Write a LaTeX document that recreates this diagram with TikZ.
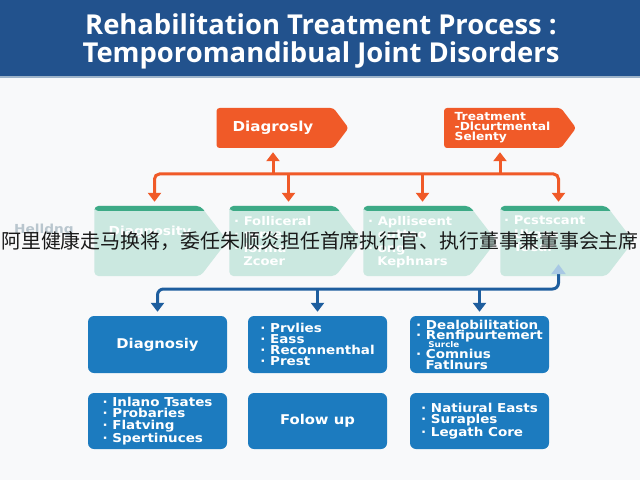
\documentclass[tikz,border=0pt]{standalone}
\usepackage{fontspec}
\setmainfont{Open Sans}
\newfontfamily\boxfont[FakeStretch=1.1]{DejaVu Sans}
\newfontfamily\cjk{Noto Sans CJK SC}
\usetikzlibrary{shapes.symbols,arrows.meta,calc}
\definecolor{titlebg}{HTML}{22528D}
\definecolor{titleline}{HTML}{9DB3C9}
\definecolor{orng}{HTML}{F05A28}
\definecolor{mint}{HTML}{CBE8E0}
\definecolor{mintdark}{HTML}{3DAA86}
\definecolor{bbox}{HTML}{1C7BBF}
\definecolor{bline}{HTML}{1E5E9E}
\definecolor{blight}{HTML}{A8C8E4}
\definecolor{pagebg}{HTML}{F8F9FA}
\definecolor{ghost}{HTML}{B9C6CE}
\begin{document}
\begin{tikzpicture}[x=1bp,y=-1bp,
  obox/.style={signal, signal to=east, signal pointer angle=106, fill=orng,
    text=white, minimum width=132bp, minimum height=40bp, inner sep=0pt,
    rounded corners=3bp, align=left},
  mbox/.style={signal, signal to=east, signal pointer angle=105, fill=mint,
    minimum width=133bp, minimum height=70bp, inner sep=0pt, rounded corners=4bp,
    path picture={\fill[mintdark] (path picture bounding box.north west)
      rectangle ([yshift=-5bp]path picture bounding box.north east);}},
  mtext/.style={text=white, font=\boxfont\bfseries\fontsize{12}{13.5}\selectfont,
    align=left, inner sep=0pt, anchor=north west},
  bbx/.style={rectangle, rounded corners=6bp, fill=bbox, minimum width=139bp,
    minimum height=57bp, inner sep=0pt, text=white, align=left,
    font=\boxfont\bfseries\fontsize{12.3}{10.8}\selectfont},
  oline/.style={draw=orng, line width=3bp},
  otip/.style={-{Triangle[length=9bp,width=13bp]}},
  bl/.style={draw=bline, line width=3bp},
]
\useasboundingbox (0,0) rectangle (640,480);
\fill[pagebg] (0,0) rectangle (640,480);
% title
\fill[titlebg] (0,0) rectangle (640,77);
\fill[titleline] (0,76.5) rectangle (640,78.5);
\node[text=white, font=\bfseries\fontsize{27.5}{28}\selectfont, align=center] (title)
  at (321,41) {Rehabilitation Treatment Process :\\Temporomandibual Joint Disorders};
% orange boxes
\node[obox, font=\boxfont\bfseries\fontsize{13.8}{12}\selectfont] (o1) at (275,128) {Diagrosly\hspace*{4bp}};
\node[obox, font=\boxfont\bfseries\fontsize{11.2}{10}\selectfont] (o2) at (502.5,128)
  {Treatment\\-Dlcurtmental\\Selenty\hspace*{10bp}};
% mint boxes
\node[mbox] (m1) at (147.5,241) {};
\node[mbox] (m2) at (282.5,241) {};
\node[mbox] (m3) at (416.5,241) {};
\node[mbox] (m4) at (553.5,241) {};
\node[text=ghost, font=\boxfont\bfseries\fontsize{12.5}{12}\selectfont] (hd) at (44,230) {Helldng};
\node[text=white, font=\boxfont\bfseries\fontsize{12.5}{12}\selectfont] (t1) at (150,232) {Diagnosity};
\node[mtext] (t2) at (234,216) {· Folliceral\\· rerce\\· lorma\\\ \ Zcoer};
\node[mtext] (t3) at (368,216) {· Aplliseent\\· euttoo\\· ong\\\ \ Kephnars};
\node[mtext] (t4) at (504,216) {· Pcstscant\\· Ukase\\\ \ Toear};
% orange connectors
\coordinate (oh) at (0,174);
\coordinate (a1) at ([xshift=7bp]m1.north);
\coordinate (a2) at ([xshift=6bp]m2.north);
\coordinate (a3) at ([xshift=6bp]m3.north);
\coordinate (a4) at ([xshift=5bp]m4.north);
\draw[oline, {Triangle[length=9bp,width=13bp]}-{Triangle[length=9bp,width=13bp]},
  rounded corners=5bp, shorten <=4bp, shorten >=4bp]
  (a1) -- (a1 |- oh) -- (a4 |- oh) -- (a4);
\draw[oline, otip, shorten >=4bp] (a2 |- oh) -- (a2);
\draw[oline, otip, shorten >=4bp] (a3 |- oh) -- (a3);
\coordinate (u1) at ([xshift=-2bp]o1.south);
\coordinate (u2) at ([xshift=-2.5bp]o2.south);
\draw[oline, otip, shorten >=4bp] (u1 |- oh) -- (u1);
\draw[oline, otip, shorten >=4bp] (u2 |- oh) -- (u2);
% blue boxes
\node[bbx, font=\boxfont\bfseries\fontsize{13.5}{13}\selectfont] (b11) at (157.5,344.5) {Diagnosiy};
\node[bbx] (b12) at (317.5,344.5) {· Prvlies\\· Eass\\· Reconnenthal\\· Prest};
\node[bbx] (b13) at (479.5,344.5) {· Dealobilitation\\· Renfipurtemert\\[-3bp]{\fontsize{8}{8}\selectfont\ \ \ \ Surcle}\\· Comnius\\\ \ Fatlnurs};
\node[bbx, minimum height=56bp, font=\boxfont\bfseries\fontsize{12.3}{11.3}\selectfont] (b21) at (157.5,421) {· Inlano Tsates\\· Probaries\\· Flatving\\· Spertinuces};
\node[bbx, minimum height=56bp, font=\boxfont\bfseries\fontsize{13.5}{13}\selectfont] (b22) at (317.5,421) {Folow up};
\node[bbx, minimum height=56bp, font=\boxfont\bfseries\fontsize{12.3}{11.3}\selectfont] (b23) at (479.5,421) {· Natiural Easts\\· Suraples\\· Legath Core};
% blue connectors
\coordinate (bh) at (0,289);
\coordinate (bu) at ([xshift=5bp]m4.south);
\draw[bl, {Triangle[length=9bp,width=13bp]}-{Triangle[length=10bp,width=14bp,color=blight]},
  rounded corners=6bp, shorten <=4bp, shorten >=-12bp]
  (b11.north) -- (b11.north |- bh) -- (bu |- bh) -- (bu);
\draw[bl, -{Triangle[length=9bp,width=13bp]}, shorten >=4bp] (b12.north |- bh) -- (b12.north);
\draw[bl, -{Triangle[length=9bp,width=13bp]}, shorten >=4bp] (b13.north |- bh) -- (b13.north);
% overlay caption
\node[text=black!90, font=\cjk\fontsize{20}{20}\selectfont, inner sep=0pt] (cap) at (320,241)
  {阿里健康走马换将，委任朱顺炎担任首席执行官、执行董事兼董事会主席};
\end{tikzpicture}
\end{document}
